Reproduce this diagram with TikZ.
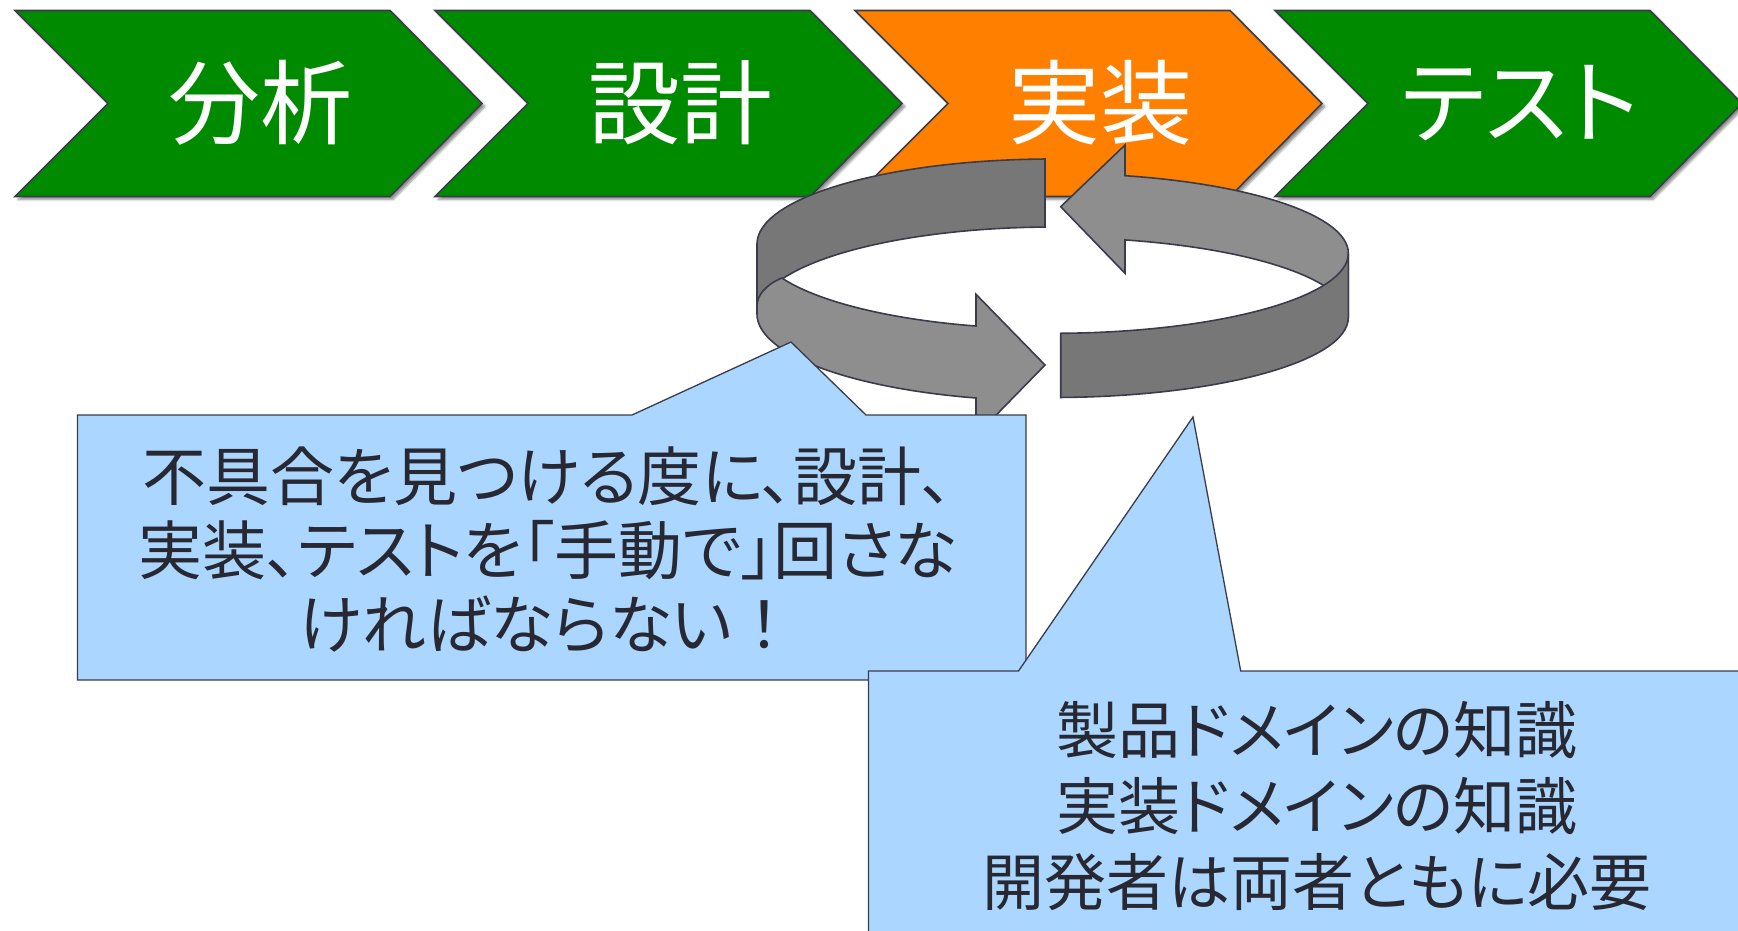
\documentclass[tikz,border=0pt]{standalone}
\usepackage{fontspec}
\setmainfont{Noto Sans CJK JP}[RawFeature=+palt]
\usetikzlibrary{shadows.blur}
\definecolor{cgreen}{RGB}{0,138,0}
\definecolor{corange}{RGB}{255,128,0}
\definecolor{cblue}{RGB}{170,214,255}
\definecolor{cdark}{RGB}{119,119,119}
\definecolor{clight}{RGB}{142,142,142}
\definecolor{cline}{RGB}{58,60,75}
\definecolor{ctext}{RGB}{40,40,50}
\newcommand\fullw[1]{{\addfontfeatures{RawFeature=-palt}#1}}
\tikzset{
  chevron/.style={draw=cline, line width=1.6pt, line join=miter,
    blur shadow={shadow xshift=3pt, shadow yshift=-3pt, shadow opacity=45, shadow blur steps=6}},
  chevlabel/.style={text=white, inner sep=0pt, font=\fontsize{92}{100}\selectfont},
  ring/.style={draw=cline, line width=1.6pt, line join=miter},
  callout/.style={draw=cline, line width=1.3pt, fill=cblue},
  calltext/.style={text=ctext, inner sep=0pt, align=center},
}
\begin{document}
\begin{tikzpicture}[x=1pt, y=-1pt]
\useasboundingbox (0,0) rectangle (1738,931);
\clip (0,0) rectangle (1738,931);
% chevrons
\foreach \x/\c/\t/\n in {15/cgreen/分析/a, 435/cgreen/設計/b, 855/corange/実装/c, 1275/cgreen/テスト/d} {
  \draw[chevron, fill=\c] (\x,10.5) -- ++(375,0) -- ++(92,93) -- ++(-92,93) -- ++(-375,0) -- ++(93,-93) -- cycle;
  \node[chevlabel] (\n) at (\x+245,103) {\t};
}
% ring: dark left back part
\draw[ring, fill=cdark] (1045,159.03)
  arc[start angle=268.45, end angle=180, x radius=296, y radius=85]
  -- (757,306) .. controls (757,296) and (765,286) .. (781.8,279.2)
  arc[start angle=203.6, end angle=268.45, x radius=296, y radius=87] -- cycle;
% ring: light left front arrow
\draw[ring, fill=clight] (781.8,278)
  arc[start angle=156.4, end angle=105.08, x radius=296, y radius=85]
  -- (976,294.3) -- (1045,365) -- (976,435.7) -- (976,398)
  arc[start angle=105.08, end angle=180, x radius=296, y radius=87]
  -- (757,306) .. controls (757,296) and (765,285) .. (781.8,278) -- cycle;
% ring: light right back arrow
\draw[ring, fill=clight] (1060.7,206.7) -- (1125,145) -- (1125,175.7)
  arc[start angle=284.17, end angle=360, x radius=295.7, y radius=80]
  -- (1348.3,317.5)
  arc[start angle=360, end angle=284.17, x radius=295.7, y radius=80]
  -- (1125,273.3) -- cycle;
% ring: dark right front part
\draw[ring, fill=cdark] (1060.7,333.3)
  arc[start angle=88.43, end angle=0, x radius=295.7, y radius=80]
  -- (1348.3,317.5)
  arc[start angle=0, end angle=88.43, x radius=295.7, y radius=80] -- cycle;
% callout 1
\draw[callout] (77.5,415) -- (632,415) -- (791,342) -- (866,415) -- (1026,415) -- (1026,680) -- (77.5,680) -- cycle;
\node[calltext, font=\fontsize{64}{74}\selectfont] (t1) at (548,550)
  {不具合を見つける度に、設計、\\実装、テストを「手動で」回さな\\ければならない\fullw{！}};
% callout 2
\draw[callout] (868.5,671) -- (1018.5,671) -- (1193,417) -- (1240.7,671) -- (1760,671) -- (1760,960) -- (868.5,960) -- cycle;
\node[calltext, font=\fontsize{62}{76}\selectfont] (t2) at (1317,806)
  {製品ドメインの知識\\実装ドメインの知識\\開発者は両者ともに必要};
\end{tikzpicture}
\end{document}
